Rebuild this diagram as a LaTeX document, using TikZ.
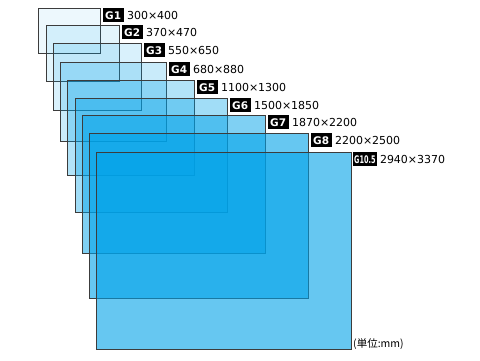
\documentclass[tikz,border=0pt]{standalone}
\usepackage{fontspec}
\setmainfont{DejaVu Sans}
\newfontfamily\jpfont{Noto Sans CJK JP}
\usepackage{tikz}
\usetikzlibrary{positioning}
\usepackage{xcolor}

\definecolor{glass}{RGB}{0,162,232}
\definecolor{edge}{RGB}{60,60,60}

\begin{document}
\begin{tikzpicture}[x=1pt, y=-1pt,
    panel/.style={draw=edge, line width=0.8pt, fill=glass, anchor=north west, inner sep=0pt, outer sep=0pt},
    gentag/.style={fill=black, text=white, font=\fontsize{10.5}{10.5}\selectfont\bfseries, inner sep=0pt, minimum height=14pt, text depth=0pt, text height=7.7pt, inner xsep=2.5pt},
    sizetext/.style={font=\fontsize{11}{11}\selectfont, inner sep=0pt, anchor=west}]

        \useasboundingbox (0,0) rectangle (480,360);

        % Glass panels, smallest first
        \node[panel, fill opacity=0.07, minimum width=62pt, minimum height=45pt] (g1) at (38,8) {};
        \node[panel, fill opacity=0.11, minimum width=73pt, minimum height=56pt] (g2) at (46,25) {};
        \node[panel, fill opacity=0.15, minimum width=88pt, minimum height=67pt] (g3) at (53,43) {};
        \node[panel, fill opacity=0.21, minimum width=106pt, minimum height=79pt] (g4) at (60,62) {};
        \node[panel, fill opacity=0.30, minimum width=127pt, minimum height=95pt] (g5) at (67,80) {};
        \node[panel, fill opacity=0.37, minimum width=152pt, minimum height=114pt] (g6) at (75,98) {};
        \node[panel, fill opacity=0.50, minimum width=183pt, minimum height=138pt] (g7) at (82,115) {};
        \node[panel, fill opacity=0.60, minimum width=219pt, minimum height=165pt] (g8) at (89,133) {};
        \node[panel, fill opacity=0.60, minimum width=255pt, minimum height=197pt] (g105) at (96,152) {};

        % Generation tags
        \node[gentag, right=2.5pt of g1.north east, anchor=north west] (t1) {G1};
        \node[gentag, right=2.5pt of g2.north east, anchor=north west] (t2) {G2};
        \node[gentag, right=2.5pt of g3.north east, anchor=north west] (t3) {G3};
        \node[gentag, right=2.5pt of g4.north east, anchor=north west] (t4) {G4};
        \node[gentag, right=2.5pt of g5.north east, anchor=north west] (t5) {G5};
        \node[gentag, right=2.5pt of g6.north east, anchor=north west] (t6) {G6};
        \node[gentag, right=2.5pt of g7.north east, anchor=north west] (t7) {G7};
        \node[gentag, right=2.5pt of g8.north east, anchor=north west] (t8) {G8};
        \node[gentag, right=2pt of g105.north east, anchor=north west, inner xsep=1pt] (t105) {\scalebox{0.62}[1]{G10.5}};

        % Sizes
        \node[sizetext, right=3pt of t1] (s1) {300×400};
        \node[sizetext, right=3pt of t2] (s2) {370×470};
        \node[sizetext, right=3pt of t3] (s3) {550×650};
        \node[sizetext, right=3pt of t4] (s4) {680×880};
        \node[sizetext, right=3pt of t5] (s5) {1100×1300};
        \node[sizetext, right=3pt of t6] (s6) {1500×1850};
        \node[sizetext, right=3pt of t7] (s7) {1870×2200};
        \node[sizetext, right=3pt of t8] (s8) {2200×2500};
        \node[sizetext, right=3pt of t105] (s105) {2940×3370};

        % Unit note
        \node[font=\jpfont\fontsize{10.5}{10.5}\selectfont, inner sep=0pt, anchor=south west] (unit) at ([xshift=2pt,yshift=-1pt]g105.south east) {(単位:mm)};

\end{tikzpicture}
\end{document}
